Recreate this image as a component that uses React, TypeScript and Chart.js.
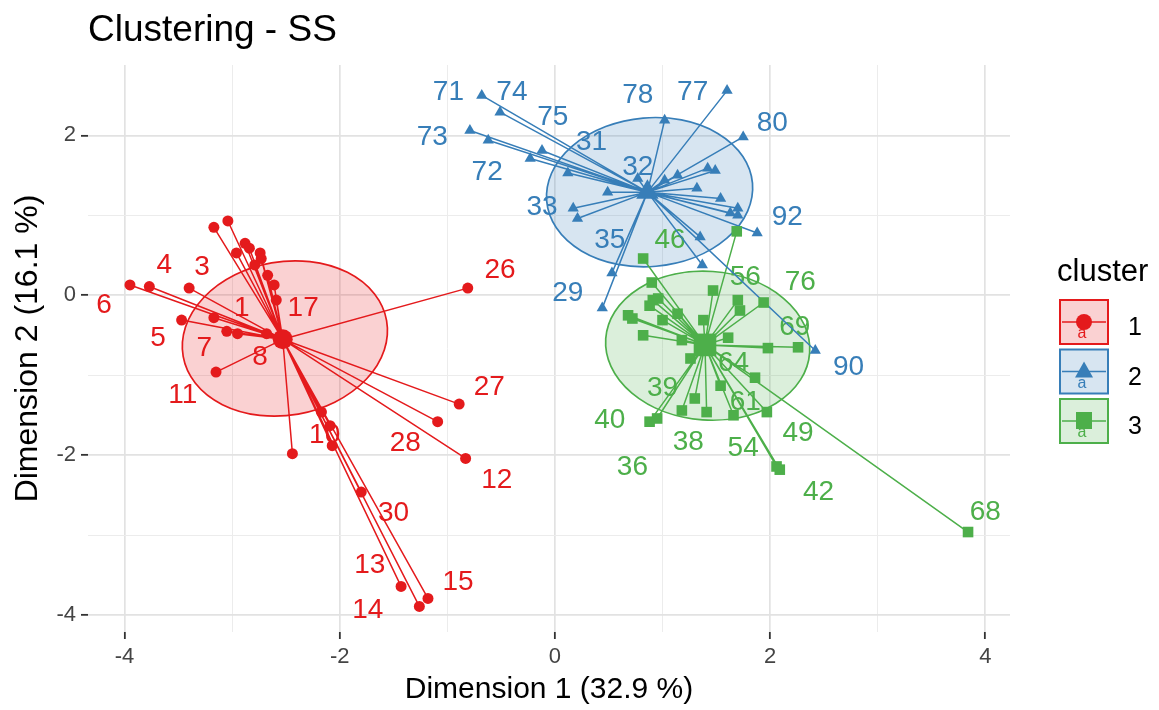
import React, { useEffect, useRef } from "react";
import { Chart, registerables } from "chart.js";

Chart.register(...registerables);

const FONT = "'Liberation Sans', Arial, Helvetica, sans-serif";

// ---------- data ----------
const clusterNames = ["1", "2", "3"];
const clusterColors = ["#E41A1C", "#377EB8", "#4DAF4A"];
const clusterFills = ["rgba(228,26,28,0.2)", "rgba(55,126,184,0.2)", "rgba(77,175,74,0.2)"];
const clusterShapes = ["circle", "triangle", "rect"];

const centerX = [-2.53, 0.86, 1.395];
const centerY = [-0.55, 1.29, -0.62];

// cluster 1 (red)
const c1X = [-3.95, -3.77, -3.40, -3.47, -3.17, -3.05, -2.95, -2.68, -3.15, -3.17, -3.04, -2.88, -2.96, -2.74, -2.73, -2.84, -2.79, -2.67, -2.61, -2.59, -0.81, -0.89, -1.09, -0.83, -2.44, -2.07, -2.17, -2.09, -1.80, -1.43, -1.18, -1.26];
const c1Y = [0.13, 0.11, 0.09, -0.31, -0.28, -0.45, -0.48, -0.48, -0.96, 0.85, 0.93, 0.65, 0.53, 0.53, 0.46, 0.59, 0.38, 0.25, 0.13, -0.06, 0.09, -1.36, -1.58, -2.04, -1.98, -1.88, -1.46, -1.63, -2.46, -3.64, -3.79, -3.89];
const c1LabText = ["6", "4", "3", "5", "1", "7", "8", "11", "17", "26", "27", "28", "12", "10", "30", "13", "15", "14"];
const c1LabX = [-4.19, -3.63, -3.28, -3.69, -2.91, -3.26, -2.74, -3.46, -2.34, -0.51, -0.61, -1.39, -0.54, -2.14, -1.50, -1.72, -0.90, -1.74];
const c1LabY = [-0.13, 0.38, 0.35, -0.54, -0.16, -0.66, -0.78, -1.25, -0.16, 0.31, -1.15, -1.85, -2.31, -1.75, -2.73, -3.37, -3.59, -3.94];

// cluster 2 (blue)
const c2X = [-0.68, -0.51, -0.23, -0.79, -0.62, 0.12, 0.77, 0.17, 0.21, 0.53, 0.44, 1.02, 1.60, 1.75, 1.88, 2.42, 0.49, 1.42, 1.49, 1.14, 1.32, 1.02, 1.54, 1.70, 1.63, 1.70, 1.35, 1.37, -0.12];
const c2Y = [2.50, 2.29, 1.71, 2.06, 1.94, 1.53, 1.46, 1.09, 0.96, 0.28, -0.16, 2.19, 2.56, 1.98, 0.78, -0.69, 1.29, 1.59, 1.56, 1.50, 1.34, 1.44, 1.21, 1.09, 1.03, 1.00, 0.73, 0.38, 1.81];
const c2LabText = ["71", "74", "75", "73", "72", "31", "32", "33", "35", "29", "78", "77", "80", "92", "90"];
const c2LabX = [-0.99, -0.40, -0.02, -1.14, -0.63, 0.34, 0.77, -0.12, 0.51, 0.12, 0.77, 1.28, 2.02, 2.16, 2.73];
const c2LabY = [2.54, 2.54, 2.23, 1.98, 1.54, 1.91, 1.60, 1.10, 0.69, 0.03, 2.50, 2.54, 2.15, 0.98, -0.90];

// cluster 3 (green)
const c3X = [0.82, 1.69, 1.94, 2.26, 1.86, 1.66, 1.30, 0.95, 1.41, 0.88, 2.06, 1.97, 2.09, 3.84, 0.90, 0.91, 0.96, 0.88, 0.68, 0.72, 1.00, 1.14, 0.82, 1.18, 1.38, 1.47, 1.70, 1.72, 1.61, 1.98, 1.26, 1.54, 1.18];
const c3Y = [0.46, 0.80, -0.09, -0.65, -1.03, -1.50, -1.29, -1.54, -1.46, -1.58, -2.14, -1.46, -2.18, -2.96, 0.16, -0.06, -0.04, -0.13, -0.25, -0.29, -0.31, -0.23, -0.50, -0.56, -0.31, 0.06, -0.06, -0.19, -0.53, -0.66, -0.79, -1.13, -1.44];
const c3LabText = ["46", "56", "76", "69", "64", "61", "39", "40", "38", "36", "54", "49", "42", "68"];
const c3LabX = [1.07, 1.77, 2.28, 2.23, 1.66, 1.77, 1.00, 0.51, 1.24, 0.72, 1.75, 2.26, 2.45, 4.00];
const c3LabY = [0.69, 0.23, 0.16, -0.40, -0.85, -1.34, -1.16, -1.56, -1.84, -2.15, -1.91, -1.73, -2.46, -2.71];

// concentration ellipses (center, semi-axes in data units, tilt in degrees)
const ellipseX = [-2.51, 0.88, 1.42];
const ellipseY = [-0.54, 1.29, -0.63];
const ellipseRX = [0.96, 0.96, 0.95];
const ellipseRY = [0.96, 0.93, 0.93];
const ellipseTilt = [-10, -5, 4];

const xLimits = [-4.34, 4.23];
const yLimits = [-4.21, 2.88];

const titleText = "Clustering - SS";
const xTitle = "Dimension 1 (32.9 %)";
const yTitle = "Dimension 2 (16.1 %)";
const legendTitle = "cluster";

// ---------- component ----------
export default function App() {
  const ref = useRef<HTMLCanvasElement | null>(null);

  useEffect(() => {
    const canvas = ref.current;
    if (!canvas) return;

    const clusters = [
      { x: c1X, y: c1Y, lt: c1LabText, lx: c1LabX, ly: c1LabY },
      { x: c2X, y: c2Y, lt: c2LabText, lx: c2LabX, ly: c2LabY },
      { x: c3X, y: c3Y, lt: c3LabText, lx: c3LabX, ly: c3LabY },
    ];
    const pointSizes = [5.5, 6.5, 7.5];
    const centerSizes = [10, 13, 16];

    const datasets: any[] = [];
    clusters.forEach((cl, k) => {
      const c = { x: centerX[k], y: centerY[k] };
      const star: any[] = [];
      cl.x.forEach((v, i) => {
        star.push(c);
        star.push({ x: v, y: cl.y[i] });
      });
      datasets.push({
        type: "scatter",
        data: star,
        showLine: true,
        borderColor: clusterColors[k],
        borderWidth: 1.5,
        borderJoinStyle: "round",
        pointRadius: 0,
        pointHoverRadius: 0,
        order: 3,
      });
      datasets.push({
        type: "scatter",
        data: cl.x.map((v, i) => ({ x: v, y: cl.y[i] })),
        pointStyle: clusterShapes[k],
        pointRadius: pointSizes[k],
        backgroundColor: clusterColors[k],
        borderColor: clusterColors[k],
        borderWidth: 0,
        order: 2,
      });
      datasets.push({
        type: "scatter",
        data: [c],
        pointStyle: clusterShapes[k],
        pointRadius: centerSizes[k],
        backgroundColor: clusterColors[k],
        borderColor: clusterColors[k],
        borderWidth: 0,
        order: 1,
      });
    });

    const underlayPlugin = {
      id: "underlay",
      beforeDatasetsDraw(chart: any) {
        const { ctx } = chart;
        const xs = chart.scales.x;
        const ys = chart.scales.y;
        ctx.save();
        for (let k = 0; k < 3; k++) {
          const cx = xs.getPixelForValue(ellipseX[k]);
          const cy = ys.getPixelForValue(ellipseY[k]);
          const rx = Math.abs(xs.getPixelForValue(ellipseX[k] + ellipseRX[k]) - cx);
          const ry = Math.abs(ys.getPixelForValue(ellipseY[k] + ellipseRY[k]) - cy);
          ctx.beginPath();
          ctx.ellipse(cx, cy, rx, ry, (ellipseTilt[k] * Math.PI) / 180, 0, Math.PI * 2);
          ctx.fillStyle = clusterFills[k];
          ctx.fill();
          ctx.strokeStyle = clusterColors[k];
          ctx.lineWidth = 1.7;
          ctx.stroke();
        }
        ctx.font = `28px ${FONT}`;
        ctx.textAlign = "center";
        ctx.textBaseline = "middle";
        clusters.forEach((cl, k) => {
          ctx.fillStyle = clusterColors[k];
          cl.lt.forEach((t, i) => {
            ctx.fillText(t, xs.getPixelForValue(cl.lx[i]), ys.getPixelForValue(cl.ly[i]));
          });
        });
        ctx.restore();
      },
    };

    const decorPlugin = {
      id: "decor",
      afterDraw(chart: any) {
        const { ctx } = chart;
        ctx.save();
        ctx.fillStyle = "#000";
        ctx.textAlign = "left";
        ctx.textBaseline = "alphabetic";
        ctx.font = `37px ${FONT}`;
        ctx.fillText(titleText, 88, 41);

        // legend
        ctx.font = `31px ${FONT}`;
        ctx.fillText(legendTitle, 1057, 281);
        const bx = 1060, bw = 48, bh = 44;
        for (let k = 0; k < 3; k++) {
          const by = 300 + k * 49.5;
          ctx.fillStyle = clusterFills[k];
          ctx.fillRect(bx, by, bw, bh);
          ctx.strokeStyle = clusterColors[k];
          ctx.lineWidth = 2;
          ctx.strokeRect(bx, by, bw, bh);
          const mx = bx + bw / 2, my = by + bh / 2;
          ctx.lineWidth = 1.5;
          ctx.beginPath();
          ctx.moveTo(bx + 2, my);
          ctx.lineTo(bx + bw - 2, my);
          ctx.stroke();
          ctx.fillStyle = clusterColors[k];
          ctx.font = `16px ${FONT}`;
          ctx.textAlign = "center";
          ctx.fillText("a", mx - 2, my + 16);
          ctx.beginPath();
          if (k === 0) {
            ctx.arc(mx, my, 8, 0, Math.PI * 2);
          } else if (k === 1) {
            ctx.moveTo(mx, my - 10);
            ctx.lineTo(mx + 9, my + 6);
            ctx.lineTo(mx - 9, my + 6);
            ctx.closePath();
          } else {
            ctx.rect(mx - 8, my - 9, 16, 17);
          }
          ctx.fill();
          ctx.fillStyle = "#000";
          ctx.font = `25px ${FONT}`;
          ctx.textAlign = "left";
          ctx.fillText(clusterNames[k], 1128, 335 + k * 49.5);
        }
        ctx.restore();
      },
    };

    const gridColor = (ctx: any) => {
      const v = ctx.tick ? ctx.tick.value : 0;
      return Math.round(v) % 2 === 0 ? "#e2e2e2" : "#ececec";
    };
    const gridWidth = (ctx: any) => {
      const v = ctx.tick ? ctx.tick.value : 0;
      return Math.round(v) % 2 === 0 ? 1.7 : 1;
    };
    const tickColor = (ctx: any) => {
      const v = ctx.tick ? ctx.tick.value : 0;
      return Math.round(v) % 2 === 0 ? "#333333" : "rgba(0,0,0,0)";
    };
    const tickLabel = (v: any) => (Math.round(Number(v)) % 2 === 0 ? String(v) : "");

    const chart = new Chart(canvas, {
      type: "scatter",
      data: { datasets },
      plugins: [underlayPlugin, decorPlugin],
      options: {
        responsive: false,
        animation: false,
        events: [],
        layout: { padding: { left: 0, top: 65, right: 149, bottom: 0 } },
        plugins: {
          legend: { display: false },
          tooltip: { enabled: false },
          title: { display: false },
        },
        scales: {
          x: {
            type: "linear",
            min: xLimits[0],
            max: xLimits[1],
            afterFit: (s: any) => {
              s.height = 78;
            },
            border: { display: false },
            grid: {
              color: gridColor,
              lineWidth: gridWidth,
              tickColor: tickColor,
              tickLength: 7,
              tickWidth: 1.8,
              drawTicks: true,
            },
            ticks: {
              stepSize: 1,
              includeBounds: false,
              autoSkip: false,
              maxRotation: 0,
              padding: 5,
              color: "#444444",
              font: { family: FONT, size: 22 },
              callback: tickLabel,
            },
            title: {
              display: true,
              text: xTitle,
              color: "#000",
              font: { family: FONT, size: 30 },
              padding: { top: 0, bottom: 2 },
            },
          },
          y: {
            type: "linear",
            min: yLimits[0],
            max: yLimits[1],
            afterFit: (s: any) => {
              s.width = 88;
            },
            border: { display: false },
            grid: {
              color: gridColor,
              lineWidth: gridWidth,
              tickColor: tickColor,
              tickLength: 7,
              tickWidth: 1.8,
              drawTicks: true,
            },
            ticks: {
              stepSize: 1,
              includeBounds: false,
              autoSkip: false,
              padding: 5,
              color: "#444444",
              font: { family: FONT, size: 22 },
              callback: tickLabel,
            },
            title: {
              display: true,
              text: yTitle,
              color: "#000",
              font: { family: FONT, size: 32 },
              padding: { top: 9, bottom: 0 },
            },
          },
        },
      } as any,
    });

    return () => chart.destroy();
  }, []);

  return (
    <div style={{ position: "fixed", left: 0, top: 0, width: 1159, height: 710, background: "#fff" }}>
      <canvas ref={ref} width={1159} height={710} style={{ display: "block" }} />
    </div>
  );
}
